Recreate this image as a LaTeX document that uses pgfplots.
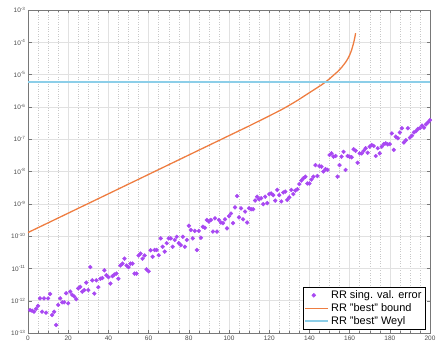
\documentclass[border=0pt]{standalone}
\usepackage{fontspec}
\setmainfont{Liberation Sans}
\usepackage{pgfplots}
\usepackage{pgfplotstable}
\pgfplotsset{compat=1.18}

\definecolor{errpurple}{RGB}{168,72,242}
\definecolor{boundorange}{RGB}{238,125,65}
\definecolor{weylblue}{RGB}{140,206,232}
\definecolor{gridgray}{RGB}{225,225,225}
\definecolor{minorgray}{RGB}{200,200,200}
\definecolor{axgray}{RGB}{120,120,120}
\definecolor{labgray}{RGB}{75,75,75}

% a longer line sample for the legend
\pgfplotsset{longline legend/.style={
  legend image code/.code={\draw[##1] (0bp,0bp) -- (23bp,0bp);}}}

% singular value error of the Rayleigh-Ritz approximation, index k = 1..200
\pgfplotstableread{
k err
1 5.13e-13
2 4.90e-13
3 4.57e-13
4 5.62e-13
5 6.92e-13
6 1.18e-12
7 4.57e-13
8 1.18e-12
9 4.27e-13
10 1.18e-12
11 1.62e-12
12 3.63e-13
13 4.57e-13
14 1.78e-13
15 7.41e-13
16 1.18e-12
17 8.91e-13
18 8.91e-13
19 1.70e-12
20 8.32e-13
21 1.91e-12
22 1.51e-12
23 1.35e-12
24 1.12e-12
25 2.40e-12
26 2.69e-12
27 1.91e-12
28 2.14e-12
29 3.63e-12
30 2.14e-12
31 1.10e-11
32 4.27e-12
33 1.66e-12
34 4.27e-12
35 2.63e-12
36 4.79e-12
37 5.01e-12
38 8.71e-12
39 6.17e-12
40 5.37e-12
41 3.39e-12
42 5.75e-12
43 6.46e-12
44 6.92e-12
45 4.79e-12
46 1.23e-11
47 1.41e-11
48 2.00e-11
49 1.23e-11
50 1.10e-11
51 1.41e-11
52 1.41e-11
53 6.92e-12
54 6.92e-12
55 2.51e-11
56 2.88e-11
57 2.00e-11
58 2.51e-11
59 9.33e-12
60 8.13e-12
61 3.63e-11
62 2.29e-11
63 3.72e-11
64 3.72e-11
65 2.57e-11
66 8.51e-11
67 4.68e-11
68 3.31e-11
69 6.03e-11
70 8.51e-11
71 8.51e-11
72 4.68e-11
73 7.59e-11
74 9.55e-11
75 6.03e-11
76 5.25e-11
77 9.55e-11
78 4.68e-11
79 7.59e-11
80 2.09e-10
81 1.55e-10
82 8.51e-11
83 1.45e-10
84 3.72e-11
85 1.45e-10
86 8.91e-11
87 1.95e-10
88 1.82e-10
89 3.16e-10
90 2.82e-10
91 3.16e-10
92 1.38e-10
93 3.55e-10
94 1.38e-10
95 3.16e-10
96 2.63e-10
97 2.51e-10
98 3.31e-10
99 1.74e-10
100 4.17e-10
101 5.01e-10
102 2.51e-10
103 7.76e-10
104 1.74e-9
105 3.80e-10
106 7.24e-10
107 3.31e-10
108 5.75e-10
109 2.63e-10
110 7.24e-10
111 6.76e-10
112 6.76e-10
113 1.26e-9
114 1.66e-9
115 1.38e-9
116 1.48e-9
117 9.77e-10
118 1.66e-9
119 1.05e-9
120 2.00e-9
121 2.09e-9
122 1.86e-9
123 1.26e-9
124 2.69e-9
125 1.86e-9
126 1.18e-9
127 2.24e-9
128 2.40e-9
129 1.32e-9
130 1.58e-9
131 2.69e-9
132 2.00e-9
133 2.57e-9
134 2.82e-9
135 4.07e-9
136 5.25e-9
137 6.17e-9
138 6.92e-9
139 4.27e-9
140 4.27e-9
141 5.62e-9
142 6.92e-9
143 1.58e-8
144 7.24e-9
145 1.48e-8
146 1.41e-8
147 1.00e-8
148 1.18e-8
149 1.12e-8
150 3.24e-8
151 3.63e-8
152 2.88e-8
153 3.02e-8
154 6.92e-9
155 1.58e-8
156 2.88e-8
157 4.07e-8
158 1.12e-8
159 3.02e-8
160 2.88e-8
161 2.75e-8
162 4.90e-8
163 4.37e-8
164 1.86e-8
165 3.63e-8
166 3.63e-8
167 4.37e-8
168 5.25e-8
169 3.80e-8
170 5.89e-8
171 6.61e-8
172 6.17e-8
173 3.02e-8
174 5.25e-8
175 3.63e-8
176 5.89e-8
177 7.08e-8
178 7.41e-8
179 6.92e-8
180 7.08e-8
181 1.51e-7
182 4.68e-8
183 1.20e-7
184 1.07e-7
185 1.62e-7
186 2.19e-7
187 7.94e-8
188 9.33e-8
189 2.19e-7
190 1.12e-7
191 1.29e-7
192 1.62e-7
193 1.78e-7
194 2.09e-7
195 2.19e-7
196 2.63e-7
197 2.29e-7
198 2.88e-7
199 3.31e-7
200 3.89e-7
}\errtable

% "best" a-priori bound; it blows up shortly after k = 160
\pgfplotstableread{
k bound
0 1.29e-10
20 5.13e-10
40 2.04e-9
60 8.13e-9
80 3.24e-8
100 1.29e-7
110 2.57e-7
120 5.25e-7
126 8.13e-7
130 1.12e-6
134 1.58e-6
138 2.29e-6
142 3.31e-6
146 4.79e-6
148 5.89e-6
150 7.41e-6
152 9.55e-6
154 1.23e-5
156 1.66e-5
158 2.40e-5
159 3.02e-5
160 3.98e-5
161 5.75e-5
162 9.55e-5
162.5 1.32e-4
163 1.91e-4
}\boundtable

\begin{document}
\begin{tikzpicture}
\begin{axis}[
  scale only axis,
  width=402bp, height=323bp,
  xmin=0, xmax=200,
  ymode=log, log basis y=10,
  ymin=1e-13, ymax=1e-3,
  xtick={0,20,...,200},
  minor x tick num=3,
  ytickten={-13,...,-3},
  yticklabel={10\textsuperscript{\pgfmathparse{int(round(\tick))}\pgfmathresult}},
  /pgf/number format/assume math mode=true,
  tick align=inside,
  xtick pos=both, ytick pos=both,
  major tick length=3.5bp, minor tick length=2bp,
  grid=both,
  major grid style={gridgray, line width=0.5pt},
  minor grid style={minorgray, dotted, line width=0.4pt},
  axis line style={axgray, line width=0.5pt},
  tick style={axgray, line width=0.4pt},
  ticklabel style={font=\fontsize{6.5}{7}\selectfont, text=labgray},
  xticklabel style={yshift=1bp},
  yticklabel style={xshift=1bp},
  legend cell align=left,
  legend style={
    at={(rel axis cs:0.988,0.012)}, anchor=south east,
    draw=black, line width=0.5pt, fill=white,
    font=\fontsize{11}{12.5}\selectfont,
    inner xsep=1.5pt, inner ysep=1pt,
    row sep=-0.5pt,
  },
]
\addplot[only marks, mark=*, mark size=1.95bp, color=errpurple,
  mark options={solid, draw=errpurple, fill=errpurple}]
  table[x=k, y=err] {\errtable};
\addlegendentry{RR sing. val. error}

\addplot[boundorange, line width=1.3pt, longline legend]
  table[x=k, y=bound] {\boundtable};
\addlegendentry{RR "best" bound}

\addplot[weylblue, line width=1.6pt, longline legend]
  coordinates {(0,5.9e-6) (200,5.9e-6)};
\addlegendentry{RR "best" Weyl}
\end{axis}
\pgfresetboundingbox
\path (-28bp,-12bp) rectangle (409bp,333bp);
\end{tikzpicture}
\end{document}
